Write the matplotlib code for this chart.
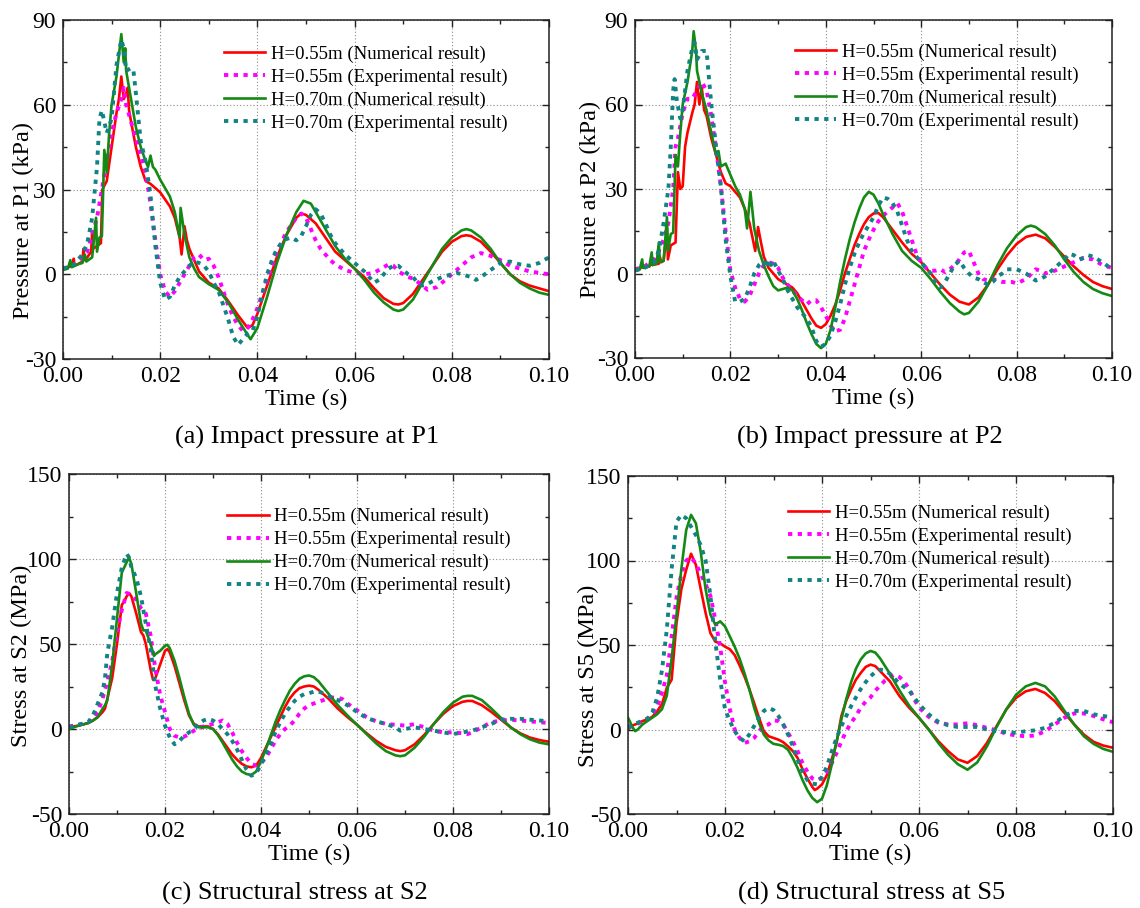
import numpy as np
import matplotlib
matplotlib.use("Agg")
import matplotlib.pyplot as plt
from matplotlib.ticker import MultipleLocator, FormatStrFormatter

plt.rcParams['font.family'] = ['Liberation Serif', 'DejaVu Serif']
plt.rcParams['axes.unicode_minus'] = False

LABELS = ["H=0.55m (Numerical result)", "H=0.55m (Experimental result)",
          "H=0.70m (Numerical result)", "H=0.70m (Experimental result)"]
CAPTIONS = ["(a) Impact pressure at P1", "(b) Impact pressure at P2",
            "(c) Structural stress at S2", "(d) Structural stress at S5"]
YLABELS = ["Pressure at P1 (kPa)", "Pressure at P2 (kPa)",
           "Stress at S2 (MPa)", "Stress at S5 (MPa)"]

# ---------------- (a) P1 ----------------  time in ms
A_RED_T = [0,1,2,2.2,2.4,3,4,4.2,4.4,5,5.8,6,6.2,7,7.8,8.1,9,10,11,11.5,12,12.5,13,13.3,13.6,14,15,16,17,18,20,22,23,24,24.4,25,25.5,26,27,28,30,32,34,36,38,39,40,42,44,46,48,49,50,52,54,56,58,60,62,64,66,68,69,70,72,74,76,78,80,82,83,84,86,88,90,92,94,96,98,100]
A_RED_V = [2,2.5,3,5.5,3,3.5,4.5,9,5,6,8,15,9,10,11,30,33,45,57,62,70,62,64,66,58,54,45,38,33,32,29,24,20,13,7,17,12,9,5,1,-3,-5,-9.5,-14.5,-19,-18,-14,-4,6,14,20,21.5,21,18,13,8,5,2,-1,-5,-8.5,-10.5,-10.7,-10.2,-7,-2,3,8,11.5,13.5,13.8,13.5,11.5,8,4,0,-2.5,-4,-5,-6]
A_MAG_T = [0,2,4,5,6,7,8,9.5,10,11,12,12.5,13,14,15,16,17,18,19,20,21,22,23,24,25,26,27,28,29,30,31,32,33,34,35,36,37,38,39,40,41,42,44,46,48,49,50,51,52,53,54,55,56,57,58,60,62,64,66,67,68,69,70,71,72,74,75,76,77,78,80,82,84,86,88,90,92,94,96,98,100]
A_MAG_V = [2,3,6,8,14,20,30,45,50,57,62,66,60,54,48,42,36,25,12,0,-6,-8,-6,-3,0,3,6,7,5,5.5,3,-1,-6,-11,-15,-18,-20,-19,-16,-12,-7,-2,8,15,20,21.5,20,16,12,9,7,5,3.5,2.5,1.5,0.5,0,0.5,2.5,3.5,3,1,0,-1,-1.5,-4,-5.5,-5,-4.5,-3,0,3,6,7.5,6.5,5,3,2,1,0.5,0]
A_GRN_T = [0,1,1.5,1.8,3,4,4.5,4.8,6,6.8,7,7.5,8,8.5,9,9.5,10,11,12,12.5,12.8,13,14,15,16,17,17.5,18,18.5,19,20,22,23,24,24.2,25,26,27,28,30,32,34,36,38,38.6,40,42,44,46,48,49.5,51,52,54,56,58,60,62,64,66,68,69,70,72,74,76,78,80,82,83,84,86,88,90,92,94,96,98,100]
A_GRN_V = [1.5,2,5,2.5,3.5,4,7,4.5,6,20,8,13,13.5,44,36,50,60,70,85,75,80,72,62,52,45,40,38,42,38,37,33.5,27.5,22,13,23.5,14,6,2,-1,-3.5,-5.5,-10,-16,-21.5,-23,-19,-8,4,14,22,26,25,22,16,10,5.5,2,-2,-6.5,-10,-12.5,-13,-12.5,-9,-3,3,9,13,15.5,16,15.5,13,9,4,0,-3,-5,-6.5,-7.3]
A_TEA_T = [0,2,4,5,6,7,7.5,8,9,10,11,12,12.5,13,14,14.5,15,16,17,18,19,20,21,22,23,24,25,26,27,28,29,30,31,32,33,34,35,36,37,38,39,40,41,42,43,44,45,46,47,48,49,50,51,52,53,54,55,56,57,58,60,62,63,64,65,66,67,68,69,70,71,72,73,74,75,76,78,80,81,82,84,85,86,88,90,92,94,96,98,100]
A_TEA_V = [2,3,7,11,20,38,55,58,50,55,74,83,80,72,73,72,64,47,40,28,10,-3,-9,-8,-4,-1,1,3,4.5,4,3,1,-3,-6,-11,-16,-22,-25,-23,-21,-20,-15,-7,0,5,9,11,12.5,13,12,13.5,17,21,23,21.5,18,14,11,9,7,4,1,-1,-3,-2,0,2,3,3,1.5,0,-1,-3,-4,-3.5,-2.5,-1,0,0.5,0,-1,-2,-1,1.5,4,4.5,3.5,3,4,6]

# ---------------- (b) P2 ----------------
B_RED_T = [0,1,1.5,1.8,3,3.3,3.6,5,5.2,5.5,6,6.7,6.9,7.5,8,8.5,9,9.5,10,10.5,11,12,12.5,13,13.5,14,14.5,15,16,17,18,19,20,22,23,24,25.2,25.8,26.3,27,28,29,30,31,32,33,34,35,36,37,38,39,40,41,42,43,44,45,46,47,48,49,50,51,52,54,56,58,60,62,64,66,68,70,72,74,76,78,80,82,84,86,88,90,92,94,96,98,100]
B_RED_V = [1,1.5,3,2,2.5,4,3,3.5,6,4,4.5,16,5,10,10.5,11,36,30,31,45,50,57,60,68,60,66,58,56,48,42,36,32,31,27,23,18,8,16.5,12,6,2,0,-2,-3,-4,-5,-7,-10,-13,-16,-18.5,-19.3,-18,-15,-11,-6,0,5,10,14,17.5,20,21.3,21.5,20,15.5,11,7,4,0,-4,-7.5,-10,-11,-8.5,-4,1.5,6.5,10.5,13,13.8,12.5,9.5,6,2.5,-0.5,-3,-4.5,-5.5]
B_MAG_T = [0,2,4,5,6,7,8,8.5,9,10,11,12,13,14,15,16,17,18,19,20,21,22,23,24,25,26,27,28,29,30,31,32,33,34,35,36,37,38,39,40,41,42,43,44,45,46,47,48,49,50,51,52,53,54,55,56,57,58,59,60,61,62,63,64,65,66,67,68,69,70,71,72,73,74,75,76,77,78,79,80,82,84,85,86,88,90,92,94,96,98,100]
B_MAG_V = [1.5,2.5,5,8,12,18,30,45,48,57,62,62,65,68,65,56,44,31,15,1,-5,-9,-10,-8,-4,0,3,4,3.5,2,-1.5,-4,-6,-8,-9.5,-11,-9.5,-9.5,-12,-15,-18.5,-20.5,-20,-16,-10,-4,2,8,12,15.5,18.5,20.5,22,23.5,25,22,17,12,7,4,2,1,1,1.5,0.5,1.5,3,5,7.5,8,4,0,-2,-2.5,-2,-2.5,-3,-3,-3,-3.5,-2,1.5,1,0,1,2.5,4,5.5,5,3,2]
B_GRN_T = [0,1,1.5,1.7,3,3.5,3.7,4.5,5,5.2,6,6.7,6.9,7.5,8,8.5,9,9.5,10,11,12,12.3,12.8,13,14,15,16,17,17.5,18,19,20,21,22,23,23.5,24.2,25,26,27,28,29,30,31,32,33,34,35,36,37,38,39,40,41,42,43,44,45,46,47,48,49,50,51,52,54,56,58,60,62,64,66,68,69,70,72,74,76,78,80,82,83,84,86,88,90,92,94,96,98,100]
B_GRN_V = [1,1.5,5,2,2.5,7.5,3,3.5,11,4,4.5,20,8,14,14.5,42,38,50,60,68,79,86,79,72,64,58,50,42,43.5,38,39,35,31,28,23,16,29,16,8,3,-1,-4.5,-6,-5.5,-5,-6,-9,-13,-17.5,-21.5,-25,-26.5,-25,-20,-12,-3,5,12,18,23,27,29,28,25,21,14,8,4.5,2,-2,-6.5,-10.5,-13.5,-14.5,-14,-10,-4,3,9,13.5,16.5,17,16.5,14,10,5,0.5,-3,-5.5,-7,-8]
B_TEA_T = [0,2,4,5,6,7,7.5,8,8.3,8.8,9.5,10,11,12,12.5,13,14,15,16,17,18,19,20,21,22,23,24,25,26,27,27.5,28,28.5,29,30,31,32,33,34,35,36,37,38,39,40,41,42,43,44,45,46,47,48,49,50,51,52,53,54,55,56,57,58,59,60,62,63,64,65,66,67,68,69,70,71,72,73,74,75,76,77,78,80,82,84,85,86,88,90,91,92,93,94,95,96,98,100]
B_TEA_V = [1,2,4,8,18,30,45,65,69,61,55,58,72,80,82,76,79,79,60,45,31,12,-1,-10,-10,-9,-5,0,3,4.5,2,5,3,4.5,1,-2,-6,-9,-12,-14,-16,-19,-24,-26,-25,-22,-17,-11,-4,2,7,11,14.5,17,20,24,27,26.5,25,22,17,12,8,6,4,0,-3,-5,-3,0,3,4.5,2,0,-1.5,-2,-3,-4,-3,-1,0,1.5,1.5,0,-2.5,-2,-1,2,5,7,6.5,5,5.5,6.5,6,4,1.5]

# ---------------- (c) S2 ----------------
C_RED_T = [0,2,4,5,6,7,7.5,8,9,10,11,11.5,12,12.5,13,14,15,15.5,16,17,17.5,18,19,20,20.5,21,22,23,24,25,26,27,28,29,30,31,32,33,34,35,36,37,38,39,40,41,42,43,44,45,46,47,48,49,50,51,52,54,56,58,60,62,64,66,68,69,70,72,74,76,78,80,82,83,84,86,88,90,92,94,96,98,100]
C_RED_V = [1,2,3.5,5,7,10,12,18,30,50,73,75,78,80,78,68,57,55,50,35,29,30,38,46,47,45,37,27,17,8,3,1.5,1.5,1.5,0,-3,-7,-11,-15,-18,-20.5,-22,-22.5,-21.5,-17,-11,-5,1,7,13,18,21.5,24,25,25.5,25,23,18,12,7,2.5,-2.5,-7,-10.5,-12.5,-13,-12.5,-9,-3.5,3,9,13.5,16,16.5,16.5,14,10,5.5,1,-2.5,-5,-6.5,-7.5]
C_MAG_T = [0,2,4,5,6,7,8,9,10,11,12,13,14,15,16,17,18,19,20,21,22,23,24,25,26,27,28,30,31,32,33,34,35,36,37,38,39,40,41,42,43,44,45,46,47,48,49,50,51,52,53,54,55,56,57,58,60,62,64,66,68,70,72,74,76,78,80,82,83,84,86,88,90,92,94,96,98,100]
C_MAG_V = [1.5,2.5,4,6,10,18,28,40,57,70,80,79,76,71,68,55,35,20,10,0,-4,-5,-4.5,-3,-1,0,1.5,3,4,5,3,-2,-8,-13,-17,-20.5,-21.5,-20,-17,-12,-7,-3,0,2,5,9,12,14,15,16,17,18,18.5,18.5,17.5,15,11,7,4.5,3,2.5,2,2.8,1,-1,-2,-2,-2.5,-3,-2,1,4,5,5.5,5,4.5,4,3.5]
C_GRN_T = [0,2,4,5,6,7,7.5,8,9,10,11,11.5,12,12.5,13,14,15,15.5,16,17,17.7,18,19,20,20.5,21,22,23,24,25,26,27,28,29,30,31,32,33,34,35,36,37,38,39,40,41,42,43,44,45,46,47,48,49,50,51,52,54,56,58,60,62,64,66,68,69,70,72,74,76,78,80,82,83,84,86,88,90,92,94,96,98,100]
C_GRN_V = [0,2,3.5,5,7,12,14,17,38,65,92,95,98,101,97,80,62,58,58,50,43,44,46,49,49.5,47.5,40,30,19,9,2.5,1,1,1,0,-3.5,-8,-13,-18,-22,-25,-26.5,-27,-25,-19,-12,-4,4,11,17,22.5,26.5,29.5,31,31.5,30.5,28,21,14,8,2.5,-3,-8.5,-13,-15.5,-16,-15.5,-11,-4.5,3,10,15.5,19,19.5,19.5,17,12,6.5,1,-3,-6,-8,-9]
C_TEA_T = [0,2,4,5,6,7,7.5,8,9,10,11,12,12.5,13,14,15,16,17,18,19,20,21,22,23,24,25,26,27,28,29,30,31,32,33,34,35,36,37,38,39,40,41,42,43,44,45,46,47,48,49,50,51,52,53,54,56,58,60,62,64,66,68,69,70,72,74,76,78,80,82,84,86,88,90,92,94,96,98,100]
C_TEA_V = [1,2.5,4,8,15,22,30,45,60,80,95,103,101,95,89,78,62,47,25,12,2,-5,-9,-7,-4,-2,0,3,5,6,5,3,0,-3,-7,-12,-18,-24,-27.5,-26,-21,-15,-9,-2,4,9,13,16.5,19,20.5,21,22,22,21,19.5,17,14,10,6.5,4.5,3,1,-1,0,1,0,-1,-2,-3,-2,-1,1,3,5.5,6,6,5.5,5,4.5]

# ---------------- (d) S5 ----------------
D_RED_T = [0,1,2,3,4,5,6,7,8,9,10,11,12,13,14,15,16,17,18,19,20,21,22,23,24,25,26,27,28,29,30,31,32,33,34,35,36,37,38,38.5,39,40,41,42,43,44,45,46,47,48,49,50,51,52,54,56,58,60,62,64,66,68,70,72,74,76,78,80,82,84,86,88,90,92,94,96,98,100]
D_RED_V = [0,2.5,3.5,5,6,7.5,10.8,15,24.6,29.5,63,83,94.5,104,97.4,83,69,57,52,51,49,47.5,44,38,31.5,24,15.7,7,-1,-4,-5,-6,-7.5,-10,-12.8,-17,-23.6,-29,-34,-35.8,-35,-32.5,-27,-17.7,-8,8,17,23.6,29.5,33.5,37,38.4,37.5,34.5,28.5,19.7,12.8,6.9,0,-7,-12.8,-17.7,-19.7,-15.7,-8,2,11.8,18.7,22.6,24,21.6,16.7,9.8,3,-3,-7.3,-9.5,-10.8]
D_MAG_T = [0,2,4,5,6,7,8,9,10,11,12,13,14,15,16,17,18,19,20,21,22,23,24,25,26,27,28,29,30,31,32,33,34,35,36,37,38,39,40,41,42,43,44,45,46,47,48,49,50,51,52,53,54,55,56,57,58,59,60,62,64,66,68,70,72,74,76,78,80,82,84,86,88,90,92,94,96,98,100]
D_MAG_V = [2,3.5,6,9,13,22,32,55,78,92,100,102,98,92,86,79,65,49,28,12,0,-5,-8,-7,-5,-1,2,3,5.5,5,3,-2,-7,-13,-20,-25,-29,-30,-28.5,-25,-20,-14,-7,-1,4,8,13,16.5,19,23,26,29,31,32.5,31,28,24,18,13,7.5,4,3,3,3.7,2.5,1,-0.5,-2.5,-3.5,-4,-3.5,-1,3,7,9.5,9.5,8,6,4.3]
D_GRN_T = [0,1,1.5,2,3,4,5,6,7,8,9,10,11,12,13,14,15,16,17,18,19,20,21,22,23,24,25,26,27,28,29,30,31,32,33,34,35,36,37,38,39,40,41,42,43,44,45,46,47,48,49,50,51,52,54,56,58,60,62,64,66,68,70,72,74,76,78,80,82,84,86,88,90,92,94,96,98,100]
D_GRN_V = [7,1,-1,0,3,5,7,9,12,20,42,68,95,118,127,122,105,83,68,62,64,61,55,49,42,33.5,24,13,4,-3,-6.5,-8.5,-9,-9.8,-12,-17,-23,-30,-36,-40.5,-43,-41,-33,-21,-7,6,18,28,36,41.5,45,46.5,45.5,42,33,23,14,7,0,-8,-15,-20.5,-23.8,-19.5,-10,1.5,12,20.5,25.5,27.6,25.5,19.5,11,3,-4,-8.5,-11.5,-13.2]
D_TEA_T = [0,2,4,5,6,7,8,9,10,11,12,13,14,15,16,17,18,19,20,21,22,23,24,25,26,27,28,29,30,31,32,33,34,35,36,37,38,39,40,41,42,43,44,45,46,47,48,49,50,51,52,53,54,55,56,57,58,59,60,62,64,66,68,70,72,74,76,78,80,82,84,86,88,90,92,94,96,98,100]
D_TEA_V = [1,4,6.5,10,18.7,35,59,95,123,127,125,120,115,109,100,79,52,29.5,12,5,-1,-5,-6.9,-3,2,7,11,12.8,11.5,8,3,-3,-10,-18,-25,-30,-32,-32.5,-28,-22,-13,-5,2,8,13.8,19,24,28,31.5,34,35.4,35,33,30,27,25,23,19,15,9,4.5,2.5,1.5,1.5,1.5,0,-1,-1.5,-2,-1,-0.5,1,4,8,11,11,9,8,7]

PANELS = [
    dict(series=[(A_RED_T, A_RED_V), (A_MAG_T, A_MAG_V), (A_GRN_T, A_GRN_V), (A_TEA_T, A_TEA_V)],
         ylim=(-30, 90), ymaj=30, ymin=15,
         rect=(63, 20, 549, 359), leg=(0.331, 0.925), ylab=(-0.060, 0.41), cap=(307, 437)),
    dict(series=[(B_RED_T, B_RED_V), (B_MAG_T, B_MAG_V), (B_GRN_T, B_GRN_V), (B_TEA_T, B_TEA_V)],
         ylim=(-30, 90), ymaj=30, ymin=15,
         rect=(635, 20, 1112, 358), leg=(0.335, 0.93), ylab=(-0.071, 0.47), cap=(870, 437)),
    dict(series=[(C_RED_T, C_RED_V), (C_MAG_T, C_MAG_V), (C_GRN_T, C_GRN_V), (C_TEA_T, C_TEA_V)],
         ylim=(-50, 150), ymaj=50, ymin=25,
         rect=(69, 474, 549, 814), leg=(0.33, 0.90), ylab=(-0.077, 0.465), cap=(295, 893)),
    dict(series=[(D_RED_T, D_RED_V), (D_MAG_T, D_MAG_V), (D_GRN_T, D_GRN_V), (D_TEA_T, D_TEA_V)],
         ylim=(-50, 150), ymaj=50, ymin=25,
         rect=(628, 476, 1113, 814), leg=(0.33, 0.915), ylab=(-0.060, 0.41), cap=(872, 893)),
]

STYLES = [
    dict(color='#ff0000', lw=1.9, ls='-'),
    dict(color='#ff00ff', lw=2.8, ls=(0, (1.1, 1.4))),
    dict(color='#148a14', lw=1.9, ls='-'),
    dict(color='#128383', lw=2.8, ls=(0, (1.1, 1.4))),
]

W, H = 1140, 908
fig = plt.figure(figsize=(W / 100, H / 100), dpi=100)

for i, p in enumerate(PANELS):
    x0, y0, x1, y1 = p['rect']
    ax = fig.add_axes([x0 / W, 1 - y1 / H, (x1 - x0) / W, (y1 - y0) / H])
    for (t, v), st, lab in zip(p['series'], STYLES, LABELS):
        if len(t) != len(v):
            raise ValueError(f"panel {i} {lab}: {len(t)} vs {len(v)}")
        ax.plot(np.asarray(t) / 1000.0, v, label=lab, **st)
    ax.set_xlim(0, 0.10)
    ax.set_ylim(*p['ylim'])
    ax.xaxis.set_major_locator(MultipleLocator(0.02))
    ax.xaxis.set_minor_locator(MultipleLocator(0.01))
    ax.yaxis.set_major_locator(MultipleLocator(p['ymaj']))
    ax.yaxis.set_minor_locator(MultipleLocator(p['ymin']))
    ax.xaxis.set_major_formatter(FormatStrFormatter('%.2f'))
    ax.yaxis.set_major_formatter(FormatStrFormatter('%d'))
    ax.tick_params(which='both', direction='in', top=True, right=True,
                   width=1.0, colors='#222222', labelcolor='black')
    ax.tick_params(which='major', length=5, labelsize=17, pad=5)
    ax.tick_params(which='minor', length=3)
    ax.grid(True, which='major', color='#8a8a8a', lw=0.8, ls=(0, (1, 2)))
    for s in ax.spines.values():
        s.set_linewidth(1.1)
        s.set_color('#222222')
    ax.set_xlabel("Time (s)", fontsize=17.5, labelpad=1.5)
    ax.set_ylabel(YLABELS[i], fontsize=17.5)
    ax.yaxis.set_label_coords(*p['ylab'])
    ax.legend(loc='upper left', bbox_to_anchor=p['leg'], frameon=False,
              fontsize=13.5, borderpad=0, borderaxespad=0, handlelength=2.2,
              handletextpad=0.3, labelspacing=0.3)
    fig.text(p['cap'][0] / W, 1 - p['cap'][1] / H, CAPTIONS[i], fontsize=19,
             ha='center', va='center')

fig.savefig("out.png", dpi=100)
